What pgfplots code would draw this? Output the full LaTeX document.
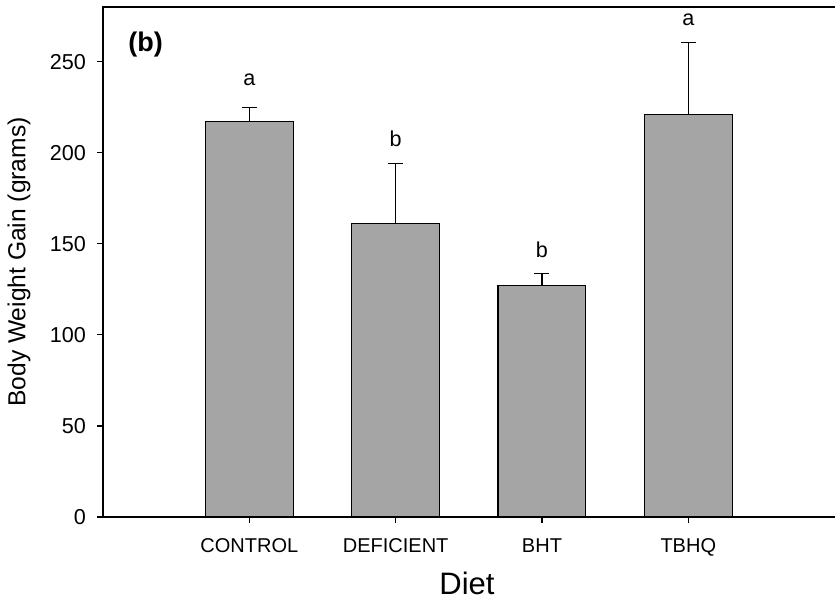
\documentclass[border=0pt]{standalone}
\usepackage{pgfplots}
\pgfplotsset{compat=1.18}
\usepackage{fontspec}
\setmainfont{Liberation Sans}
\definecolor{bargray}{RGB}{165,165,165}
\pgfplotstableread{
x y e
0 217.2 7.5
1 161.2 32.8
2 127.1 6.4
3 221.0 39.4
}\bwdata
\begin{document}
\begin{tikzpicture}
\useasboundingbox (-51.5pt,-41.5pt) rectangle (366pt,258.5pt);
\begin{axis}[
  at={(0pt,0pt)}, anchor=south west,
  scale only axis, width=368pt, height=255pt,
  xmin=-1, xmax=4.03, ymin=0, ymax=280,
  xtick={0,1,2,3}, xticklabels={CONTROL,DEFICIENT,BHT,TBHQ},
  ytick={0,50,100,150,200,250},
  tick align=outside, major tick length=3pt,
  xtick pos=bottom, ytick pos=left,
  axis line style={line width=0.75pt},
  tick style={line width=0.6pt, black},
  /pgf/number format/assume math mode=true,
  yticklabel style={font=\fontsize{10.8}{12}\selectfont, xshift=-2pt},
  xticklabel style={font=\fontsize{10}{12}\selectfont, anchor=base, yshift=-14.5pt},
  ylabel={Body Weight Gain (grams)},
  ylabel style={at={(axis description cs:-0.114,0.5)}, anchor=center, rotate=0, font=\fontsize{12.3}{14}\selectfont},
  xlabel={Diet},
  xlabel style={at={(axis description cs:0.4946,-0.152)}, anchor=base, inner sep=0pt, font=\fontsize{15.5}{18}\selectfont},
]
\addplot[ybar, bar width=0.6, fill=bargray, draw=black, line width=0.6pt,
  error bars/.cd, y dir=plus, y explicit,
  error bar style={line width=0.6pt, black},
  error mark options={rotate=90, mark size=3.75pt, line width=0.6pt, black}]
  table[x=x, y=y, y error=e] {\bwdata};
\node[anchor=base, font=\fontsize{10.8}{12}\selectfont] at (axis cs:0,236.8) {a};
\node[anchor=base, font=\fontsize{10.8}{12}\selectfont] at (axis cs:1,203.3) {b};
\node[anchor=base, font=\fontsize{10.8}{12}\selectfont] at (axis cs:2,142.3) {b};
\node[anchor=base, font=\fontsize{10.8}{12}\selectfont] at (axis cs:3,269.8) {a};
\node[anchor=base west, inner sep=0pt, font=\bfseries\fontsize{13.5}{15}\selectfont] at (axis description cs:0.034,0.912) {(b)};
\end{axis}
\end{tikzpicture}
\end{document}
